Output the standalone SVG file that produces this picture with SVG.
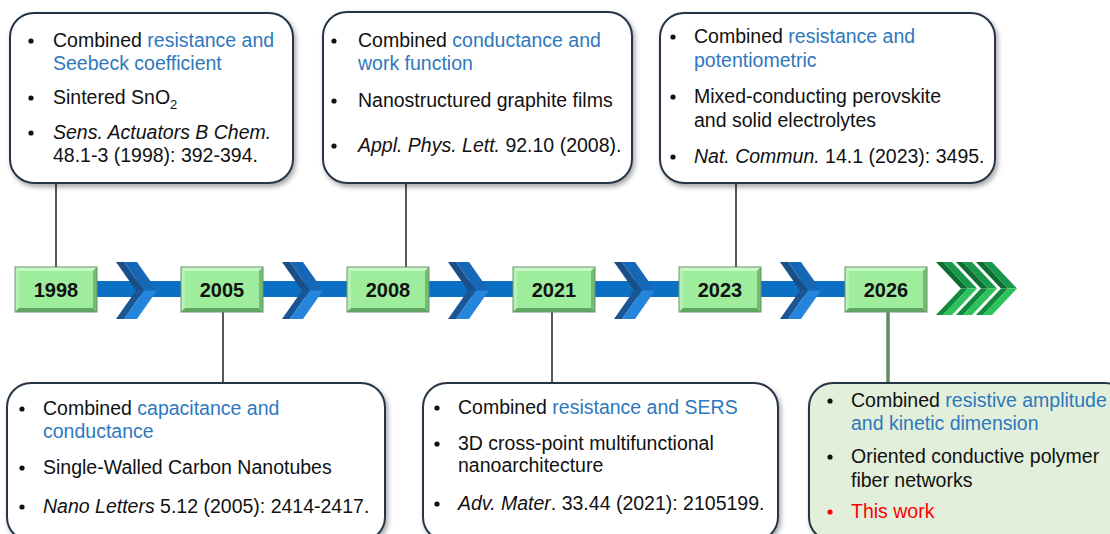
<svg xmlns="http://www.w3.org/2000/svg" width="1110" height="534" viewBox="0 0 1110 534">
<defs>
<filter id="sh" x="-10%" y="-10%" width="130%" height="130%">
<feDropShadow dx="2" dy="3" stdDeviation="2.5" flood-color="#000" flood-opacity="0.35"/>
</filter>
<g id="yb">
<rect x="0" y="0" width="82" height="45" fill="#9ded9d"/>
<polygon points="0,0 82,0 78,4 4,4" fill="#c9f8c9"/>
<polygon points="0,0 4,4 4,41 0,45" fill="#b5f3b5"/>
<polygon points="0,45 4,41 78,41 82,45" fill="#5fa85f"/>
<polygon points="82,0 82,45 78,41 78,4" fill="#73bc73"/>
<rect x="0" y="0" width="82" height="45" fill="none" stroke="#6a946a" stroke-width="1"/>
</g>
<g id="bc">
<polygon points="0,0 8,0 28,28.5 20,28.5" fill="#1a4e86"/>
<polygon points="8,0 21,0 41,28.5 28,28.5" fill="#1667b6"/>
<polygon points="20,28.5 28,28.5 8,57 0,57" fill="#1a5594"/>
<polygon points="28,28.5 41,28.5 21,57 8,57" fill="#2585da"/>
</g>
<g id="gc">
<polygon points="0,0 7,0 32,26.5 25,26.5" fill="#0e6e31"/>
<polygon points="7,0 16,0 41,26.5 32,26.5" fill="#17984a"/>
<polygon points="25,26.5 32,26.5 7,53 0,53" fill="#128a3e"/>
<polygon points="32,26.5 41,26.5 16,53 7,53" fill="#2dc35c"/>
</g>
</defs>
<style>
.card{fill:#ffffff;stroke:#263645;stroke-width:2;filter:url(#sh)}
.card6{fill:#e2efda;stroke:#263645;stroke-width:2;filter:url(#sh)}
.t{font-family:"Liberation Sans",Arial,sans-serif;font-size:19.5px;fill:#111111}
.b{fill:#2e78bd}
.r{fill:#ff0000}
.i{font-style:italic}
.yr{font-family:"Liberation Sans",Arial,sans-serif;font-size:20px;font-weight:bold;fill:#111111;text-anchor:middle}
.ln{stroke:#222222;stroke-width:1.5;fill:none}
circle{fill:#111111}
</style>

<g id="connectors">
<line class="ln" x1="56" y1="183" x2="56" y2="267"/>
<line class="ln" x1="406" y1="183" x2="406" y2="267"/>
<line class="ln" x1="736" y1="183" x2="736" y2="267"/>
<line class="ln" x1="223" y1="312" x2="223" y2="383"/>
<line class="ln" x1="552" y1="312" x2="552" y2="383"/>
<line x1="888" y1="312" x2="888" y2="383" stroke="#2d4f33" stroke-width="3"/>
<line x1="888" y1="312" x2="888" y2="383" stroke="#7fcf84" stroke-width="1"/>
</g>

<g id="timeline">
<rect x="60" y="281" width="810" height="16" fill="#0b6fc4"/>
<use href="#bc" x="116" y="262"/>
<use href="#bc" x="282" y="262"/>
<use href="#bc" x="448" y="262"/>
<use href="#bc" x="614" y="262"/>
<use href="#bc" x="780" y="262"/>
<use href="#gc" x="936" y="262"/>
<use href="#gc" x="956" y="262"/>
<use href="#gc" x="976" y="262"/>
</g>

<g id="y1998"><use href="#yb" x="15" y="267"/><text class="yr" x="56" y="297">1998</text></g>
<g id="y2005"><use href="#yb" x="181" y="267"/><text class="yr" x="222" y="297">2005</text></g>
<g id="y2008"><use href="#yb" x="347" y="267"/><text class="yr" x="388" y="297">2008</text></g>
<g id="y2021"><use href="#yb" x="513" y="267"/><text class="yr" x="554" y="297">2021</text></g>
<g id="y2023"><use href="#yb" x="679" y="267"/><text class="yr" x="720" y="297">2023</text></g>
<g id="y2026"><use href="#yb" x="845" y="267"/><text class="yr" x="886" y="297">2026</text></g>

<g id="card1998">
<rect class="card" x="10" y="13" width="283" height="170" rx="24"/>
<circle cx="31" cy="41" r="2.6"/><circle cx="31" cy="98" r="2.6"/><circle cx="31" cy="133" r="2.6"/>
<text class="t" x="53" y="47">Combined <tspan class="b">resistance and</tspan></text>
<text class="t b" x="53" y="70">Seebeck coefficient</text>
<text class="t" x="53" y="104">Sintered SnO<tspan font-size="13" dy="5">2</tspan></text>
<text class="t i" x="53" y="139">Sens. Actuators B Chem.</text>
<text class="t" x="53" y="162">48.1-3 (1998): 392-394.</text>
</g>

<g id="card2008">
<rect class="card" x="323" y="12" width="309" height="171" rx="24"/>
<circle cx="334" cy="41" r="2.6"/><circle cx="334" cy="101" r="2.6"/><circle cx="334" cy="146" r="2.6"/>
<text class="t" x="358" y="47">Combined <tspan class="b">conductance and</tspan></text>
<text class="t b" x="358" y="70">work function</text>
<text class="t" x="358" y="107">Nanostructured graphite films</text>
<text class="t" x="358" y="152"><tspan class="i">Appl. Phys. Lett.</tspan> 92.10 (2008).</text>
</g>

<g id="card2023">
<rect class="card" x="660" y="13" width="335" height="170" rx="24"/>
<circle cx="673" cy="37" r="2.6"/><circle cx="673" cy="97" r="2.6"/><circle cx="673" cy="157" r="2.6"/>
<text class="t" x="694" y="43">Combined <tspan class="b">resistance and</tspan></text>
<text class="t b" x="694" y="67">potentiometric</text>
<text class="t" x="694" y="103">Mixed-conducting perovskite</text>
<text class="t" x="694" y="127">and solid electrolytes</text>
<text class="t" x="694" y="163"><tspan class="i">Nat. Commun.</tspan> 14.1 (2023): 3495.</text>
</g>

<g id="card2005">
<rect class="card" x="7" y="383" width="378" height="158" rx="24"/>
<circle cx="22" cy="409" r="2.6"/><circle cx="22" cy="468" r="2.6"/><circle cx="22" cy="507" r="2.6"/>
<text class="t" x="43" y="415">Combined <tspan class="b">capacitance and</tspan></text>
<text class="t b" x="43" y="438">conductance</text>
<text class="t" x="43" y="474">Single-Walled Carbon Nanotubes</text>
<text class="t" x="43" y="513"><tspan class="i">Nano Letters</tspan> 5.12 (2005): 2414-2417.</text>
</g>

<g id="card2021">
<rect class="card" x="423" y="383" width="355" height="158" rx="24"/>
<circle cx="437" cy="408" r="2.6"/><circle cx="437" cy="444" r="2.6"/><circle cx="437" cy="504" r="2.6"/>
<text class="t" x="458" y="414">Combined <tspan class="b">resistance and SERS</tspan></text>
<text class="t" x="458" y="450">3D cross-point multifunctional</text>
<text class="t" x="458" y="472">nanoarchitecture</text>
<text class="t" x="458" y="510"><tspan class="i">Adv. Mater</tspan>. 33.44 (2021): 2105199.</text>
</g>

<g id="card2026">
<rect class="card6" x="809" y="383" width="320" height="158" rx="24"/>
<circle cx="830" cy="401" r="2.6"/><circle cx="830" cy="457" r="2.6"/><circle cx="830" cy="512" r="2.6" style="fill:#ff0000"/>
<text class="t" x="851" y="407">Combined <tspan class="b">resistive amplitude</tspan></text>
<text class="t b" x="851" y="430">and kinetic dimension</text>
<text class="t" x="851" y="463">Oriented conductive polymer</text>
<text class="t" x="851" y="487">fiber networks</text>
<text class="t r" x="851" y="518">This work</text>
</g>
</svg>
